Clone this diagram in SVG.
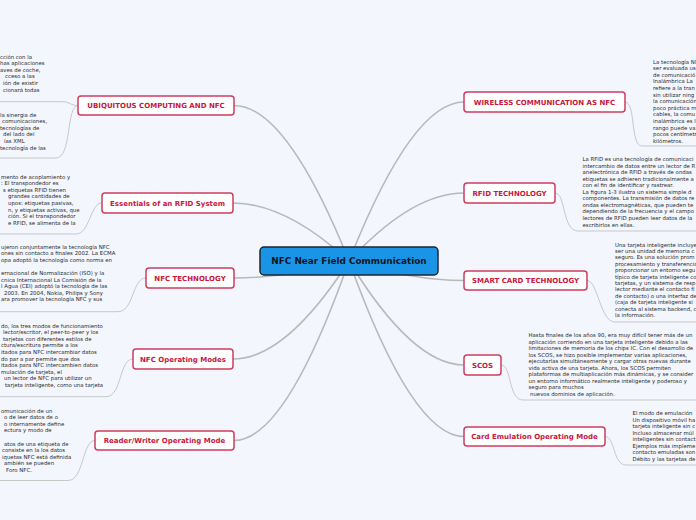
<svg xmlns="http://www.w3.org/2000/svg" width="696" height="520" viewBox="0 0 696 520">
<style>
.edge{fill:none;stroke:#b9b9b9;stroke-width:1.6}
.nl{fill:none;stroke:#c8c8c8;stroke-width:1}
.node rect{fill:#ffffff;stroke:#cf3d5e;stroke-width:1.5}
.node text{font-family:"DejaVu Sans",Verdana,sans-serif;font-weight:bold;font-size:7px;fill:#c8163c;text-anchor:middle}
.node text.note{font-family:"DejaVu Sans",Verdana,sans-serif;font-weight:normal;font-size:5.4px;fill:#2a2a2a;text-anchor:start}
#center rect{fill:#1a94e6;stroke:#1b2630;stroke-width:1.5}
#center text{font-family:"DejaVu Sans",Verdana,sans-serif;font-weight:bold;font-size:8.9px;fill:#0b1520;text-anchor:middle}
</style>
<rect width="696" height="520" fill="#f3f6fd"/>

<g id="connectors">
  <path class="edge" d="M349,261 C313.3,172.4 273.1,105.5 234,105.5"/>
  <path class="edge" d="M349,261 C313,228 273,203 233,203"/>
  <path class="edge" d="M349,261 C313,271 273,278 234,278"/>
  <path class="edge" d="M349,261 C313,317 273,359 233,359"/>
  <path class="edge" d="M349,261 C313,363 273,440.5 234,440.5"/>
  <path class="edge" d="M349,261 C385,170 425,102 464,102"/>
  <path class="edge" d="M349,261 C385,222 425,193 464,193"/>
  <path class="edge" d="M349,261 C385,272 425,280.5 464,280.5"/>
  <path class="edge" d="M349,261 C385,320 425,365 464,365"/>
  <path class="edge" d="M349,261 C385,361 425,436.5 464,436.5"/>

  <path class="nl" d="M78,105.5 C70,105.5 70,101.7 62,101.7 H0"/>
  <path class="nl" d="M78,105.5 C66,105.5 72,158 56,158 H0"/>
  <path class="nl" d="M102,203 C90,203 90,234 76,234 H0"/>
  <path class="nl" d="M146,278 C132,278 134,311.7 118,311.7 H0"/>
  <path class="nl" d="M133,359 C119,359 122,396.7 106,396.7 H0"/>
  <path class="nl" d="M95,440.5 C82,440.5 84,480.5 68,480.5 H0"/>

  <path class="nl" d="M625,102 C636,102 630,146 642,146 H696"/>
  <path class="nl" d="M555,193 C566,193 562,231 578,231 H696"/>
  <path class="nl" d="M587,280.5 C598,280.5 600,322 615,322 H696"/>
  <path class="nl" d="M501,365 C512,365 508,400 523,400 H696"/>
  <path class="nl" d="M605,436.5 C615,436.5 613,465 626,465 H696"/>
</g>

<g id="center">
  <rect x="260" y="247" width="178" height="28" rx="4"/>
  <text x="349" y="264.3">NFC Near Field Communication</text>
</g>

<g id="n-ubiquitous" class="node">
  <rect x="78" y="96" width="156" height="19" rx="3"/>
  <text x="156" y="108">UBIQUITOUS COMPUTING AND NFC</text>
  <text class="note">
    <tspan x="0" y="58.5">cción con la</tspan>
    <tspan x="0" y="65.1">has aplicaciones</tspan>
    <tspan x="0" y="71.7">aves de coche,</tspan>
    <tspan x="5" y="78.3">cceso a las</tspan>
    <tspan x="3" y="84.9">ión de existir</tspan>
    <tspan x="3" y="91.5">cionará todas</tspan>
    <tspan x="0" y="116.5">la sinergia de</tspan>
    <tspan x="2" y="123.1">comunicaciones,</tspan>
    <tspan x="0" y="129.7">tecnologías de</tspan>
    <tspan x="3" y="136.3">del lado del</tspan>
    <tspan x="4" y="142.9">ías XML</tspan>
    <tspan x="0" y="149.5">tecnología de las</tspan>
  </text>
</g>

<g id="n-essentials" class="node">
  <rect x="102" y="193" width="131" height="20" rx="3"/>
  <text x="167.5" y="205.5">Essentials of an RFID System</text>
  <text class="note">
    <tspan x="1" y="178.5">mento de acoplamiento y</tspan>
    <tspan x="1" y="185.1">: El transpondedor es</tspan>
    <tspan x="3" y="191.7">s etiquetas RFID tienen</tspan>
    <tspan x="8" y="198.3">grandes cantidades de</tspan>
    <tspan x="8" y="204.9">upos: etiquetas pasivas,</tspan>
    <tspan x="8" y="211.5">n, y etiquetas activas, que</tspan>
    <tspan x="8" y="218.1">ción. Si el transpondedor</tspan>
    <tspan x="8" y="224.7">e RFID, se alimenta de la</tspan>
  </text>
</g>

<g id="n-nfctech" class="node">
  <rect x="146" y="268" width="88" height="20" rx="3"/>
  <text x="190" y="280.5">NFC TECHNOLOGY</text>
  <text class="note">
    <tspan x="1" y="248.5">ujeron conjuntamente la tecnología NFC</tspan>
    <tspan x="1" y="255.1">ones sin contacto a finales 2002. La ECMA</tspan>
    <tspan x="1" y="261.7">opa adoptó la tecnología como norma en</tspan>
    <tspan x="1" y="274.9">ernacional de Normalización (ISO) y la</tspan>
    <tspan x="1" y="281.5">cnica Internacional La Comisión de la</tspan>
    <tspan x="1" y="288.1">l Agua (CEI) adoptó la tecnología de las</tspan>
    <tspan x="4" y="294.7">2003. En 2004, Nokia, Philips y Sony</tspan>
    <tspan x="1" y="301.3">ara promover la tecnología NFC y sus</tspan>
  </text>
</g>

<g id="n-opmodes" class="node">
  <rect x="133" y="349" width="100" height="20" rx="3"/>
  <text x="183" y="361.5">NFC Operating Modes</text>
  <text class="note">
    <tspan x="1" y="327.5">do, los tres modos de funcionamiento</tspan>
    <tspan x="3" y="334.1">lector/escritor, el peer-to-peer y los</tspan>
    <tspan x="3" y="340.7">tarjetas con diferentes estilos de</tspan>
    <tspan x="1" y="347.3">ctura/escritura permite a los</tspan>
    <tspan x="1" y="353.9">itados para NFC intercambiar datos</tspan>
    <tspan x="1" y="360.5">do par a par permite que dos</tspan>
    <tspan x="1" y="367.1">itados para NFC intercambien datos</tspan>
    <tspan x="1" y="373.7">mulación de tarjeta, el</tspan>
    <tspan x="4" y="380.3">un lector de NFC para utilizar un</tspan>
    <tspan x="5" y="386.9">tarjeta inteligente, como una tarjeta</tspan>
  </text>
</g>

<g id="n-readerwriter" class="node">
  <rect x="95" y="431" width="139" height="19" rx="3"/>
  <text x="164.5" y="443">Reader/Writer Operating Mode</text>
  <text class="note">
    <tspan x="1" y="412.5">omunicación de un</tspan>
    <tspan x="4" y="419.1">o de leer datos de o</tspan>
    <tspan x="4" y="425.7">o internamente define</tspan>
    <tspan x="4" y="432.3">ectura y modo de</tspan>
    <tspan x="4" y="445.5">atos de una etiqueta de</tspan>
    <tspan x="2" y="452.1">consiste en la los datos</tspan>
    <tspan x="2" y="458.7">iquetas NFC está definida</tspan>
    <tspan x="4" y="465.3">ambién se pueden</tspan>
    <tspan x="6" y="471.9">Foro NFC.</tspan>
  </text>
</g>

<g id="n-wireless" class="node">
  <rect x="464" y="92" width="161" height="20" rx="3"/>
  <text x="544.5" y="104.5">WIRELESS COMMUNICATION AS NFC</text>
  <text class="note">
    <tspan x="653" y="63.5">La tecnología NF</tspan>
    <tspan x="653" y="70.1">ser evaluada us</tspan>
    <tspan x="653" y="76.7">de comunicació</tspan>
    <tspan x="653" y="83.3">Inalámbrica La</tspan>
    <tspan x="653" y="89.9">refiere a la tran</tspan>
    <tspan x="653" y="96.5">sin utilizar ning</tspan>
    <tspan x="653" y="103.1">la comunicación</tspan>
    <tspan x="653" y="109.7">poco práctica m</tspan>
    <tspan x="653" y="116.3">cables, la comu</tspan>
    <tspan x="653" y="122.9">inalámbrica es l</tspan>
    <tspan x="653" y="129.5">rango puede va</tspan>
    <tspan x="653" y="136.1">pocos centímetr</tspan>
    <tspan x="653" y="142.7">kilómetros.</tspan>
  </text>
</g>

<g id="n-rfid" class="node">
  <rect x="464" y="183" width="91" height="20" rx="3"/>
  <text x="509.5" y="195.5">RFID TECHNOLOGY</text>
  <text class="note">
    <tspan x="582.5" y="161">La RFID es una tecnología de comunicaci</tspan>
    <tspan x="582.5" y="167.55">intercambio de datos entre un lector de R</tspan>
    <tspan x="582.5" y="174.1">anelectrónica de RFID a través de ondas</tspan>
    <tspan x="582.5" y="180.65">etiquetas se adhieren tradicionalmente a</tspan>
    <tspan x="582.5" y="187.2">con el fin de identificar y rastrear.</tspan>
    <tspan x="582.5" y="193.75">La figura 1-3 ilustra un sistema simple d</tspan>
    <tspan x="582.5" y="200.3">componentes. La transmisión de datos re</tspan>
    <tspan x="582.5" y="206.85">ondas electromagnéticas, que pueden te</tspan>
    <tspan x="582.5" y="213.4">dependiendo de la frecuencia y el campo</tspan>
    <tspan x="582.5" y="219.95">lectores de RFID pueden leer datos de la</tspan>
    <tspan x="582.5" y="226.5">escribirlos en ellas.</tspan>
  </text>
</g>

<g id="n-smartcard" class="node">
  <rect x="464" y="271" width="123" height="19" rx="3"/>
  <text x="525.5" y="283">SMART CARD TECHNOLOGY</text>
  <text class="note">
    <tspan x="615" y="246.5">Una tarjeta inteligente incluye</tspan>
    <tspan x="615" y="252.9">ser una unidad de memoria c</tspan>
    <tspan x="615" y="259.3">seguro. Es una solución prom</tspan>
    <tspan x="615" y="265.7">procesamiento y transferencia</tspan>
    <tspan x="615" y="272.1">proporcionar un entorno segu</tspan>
    <tspan x="615" y="278.5">típico de tarjeta inteligente co</tspan>
    <tspan x="615" y="284.9">tarjetas, y un sistema de resp</tspan>
    <tspan x="615" y="291.3">lector mediante el contacto fí</tspan>
    <tspan x="615" y="297.7">de contacto) o una interfaz de</tspan>
    <tspan x="615" y="304.1">(caja de tarjeta inteligente si</tspan>
    <tspan x="615" y="310.5">conecta al sistema backend, c</tspan>
    <tspan x="615" y="316.9">la información.</tspan>
  </text>
</g>

<g id="n-scos" class="node">
  <rect x="464" y="355" width="37" height="20" rx="3"/>
  <text x="482.5" y="367.5">SCOS</text>
  <text class="note">
    <tspan x="528.5" y="337">Hasta finales de los años 90, era muy difícil tener más de un</tspan>
    <tspan x="528.5" y="343.55">aplicación corriendo en una tarjeta inteligente debido a las</tspan>
    <tspan x="528.5" y="350.1">limitaciones de memoria de los chips IC. Con el desarrollo de</tspan>
    <tspan x="528.5" y="356.65">los SCOS, se hizo posible implementar varias aplicaciones,</tspan>
    <tspan x="528.5" y="363.2">ejecutarlas simultáneamente y cargar otras nuevas durante</tspan>
    <tspan x="528.5" y="369.75">vida activa de una tarjeta. Ahora, los SCOS permiten</tspan>
    <tspan x="528.5" y="376.3">plataformas de multiaplicación más dinámicas, y se consider</tspan>
    <tspan x="528.5" y="382.85">un entorno informático realmente inteligente y poderoso y</tspan>
    <tspan x="528.5" y="389.4">seguro para muchos</tspan>
    <tspan x="530" y="395.95">nuevos dominios de aplicación.</tspan>
  </text>
</g>

<g id="n-cardemu" class="node">
  <rect x="464" y="427" width="141" height="19" rx="3"/>
  <text x="534.5" y="439">Card Emulation Operating Mode</text>
  <text class="note">
    <tspan x="632.5" y="415">El modo de emulación</tspan>
    <tspan x="632.5" y="421.57">Un dispositivo móvil ha</tspan>
    <tspan x="632.5" y="428.14">tarjeta inteligente sin c</tspan>
    <tspan x="632.5" y="434.71">Incluso almacenar múl</tspan>
    <tspan x="632.5" y="441.28">inteligentes sin contact</tspan>
    <tspan x="632.5" y="447.85">Ejemplos más impleme</tspan>
    <tspan x="632.5" y="454.42">contacto emuladas son</tspan>
    <tspan x="632.5" y="461">Débito y las tarjetas de</tspan>
  </text>
</g>
</svg>
